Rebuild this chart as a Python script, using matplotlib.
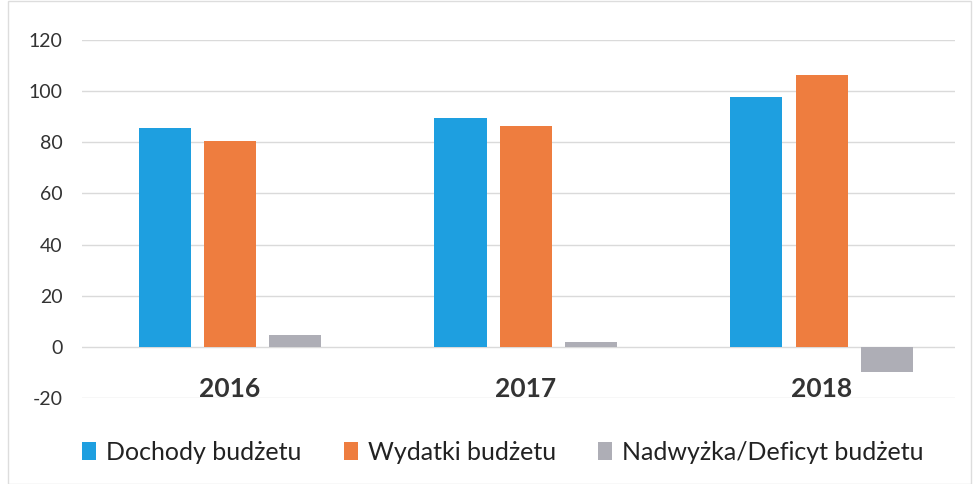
import matplotlib
matplotlib.use("Agg")
import matplotlib.pyplot as plt
import numpy as np
from matplotlib.patches import Rectangle

years = ["2016", "2017", "2018"]
series_names = ["Dochody budżetu", "Wydatki budżetu", "Nadwyżka/Deficyt budżetu"]
dochody = [85.4, 89.5, 97.8]
wydatki = [80.5, 86.3, 106.5]
saldo = [4.6, 2.0, -9.8]
yticks = [-20, 0, 20, 40, 60, 80, 100, 120]

colors = ["#1E9FE0", "#EE7D3F", "#AEAEB6"]

plt.rcParams['font.family'] = ['Lato', 'DejaVu Sans']

fig = plt.figure(figsize=(9.78, 4.84), dpi=100)
ax = fig.add_axes([82/978, 1-398/484, (955-82)/978, (398-40)/484])

x = np.arange(len(years))
w = 0.176
off = 0.221
for i, (vals, name) in enumerate(zip([dochody, wydatki, saldo], series_names)):
    ax.bar(x + (i-1)*off, vals, width=w, color=colors[i], label=name, zorder=3)

ax.set_xlim(-0.5, 2.45)
ax.set_ylim(-20, 120)
ax.set_yticks(yticks)
ax.set_yticklabels([str(t) for t in yticks], fontsize=14, color="#333333")
ax.grid(axis='y', color="#DADADA", linewidth=1, zorder=0)
for s in ['top', 'right', 'left']:
    ax.spines[s].set_visible(False)
ax.spines['bottom'].set_position(('data', 0))
ax.spines['bottom'].set_visible(False)
ax.tick_params(axis='y', length=0, pad=14)
ax.set_xticks(x)
ax.set_xticklabels(years, fontsize=19, fontweight='bold', color="#333333")
ax.tick_params(axis='x', length=0, pad=22)

fig.legend(loc='center', bbox_to_anchor=(503/978, 1-452/484), ncol=3, frameon=False,
           fontsize=18, handlelength=0.55, handleheight=0.75, handletextpad=0.4,
           columnspacing=1.7, labelcolor="#222222")

fig.add_artist(Rectangle((0.008, 0.0), 0.985, 0.998, transform=fig.transFigure,
                         fill=False, edgecolor="#DDDDDD", linewidth=1))

fig.savefig("out.png", dpi=100)
